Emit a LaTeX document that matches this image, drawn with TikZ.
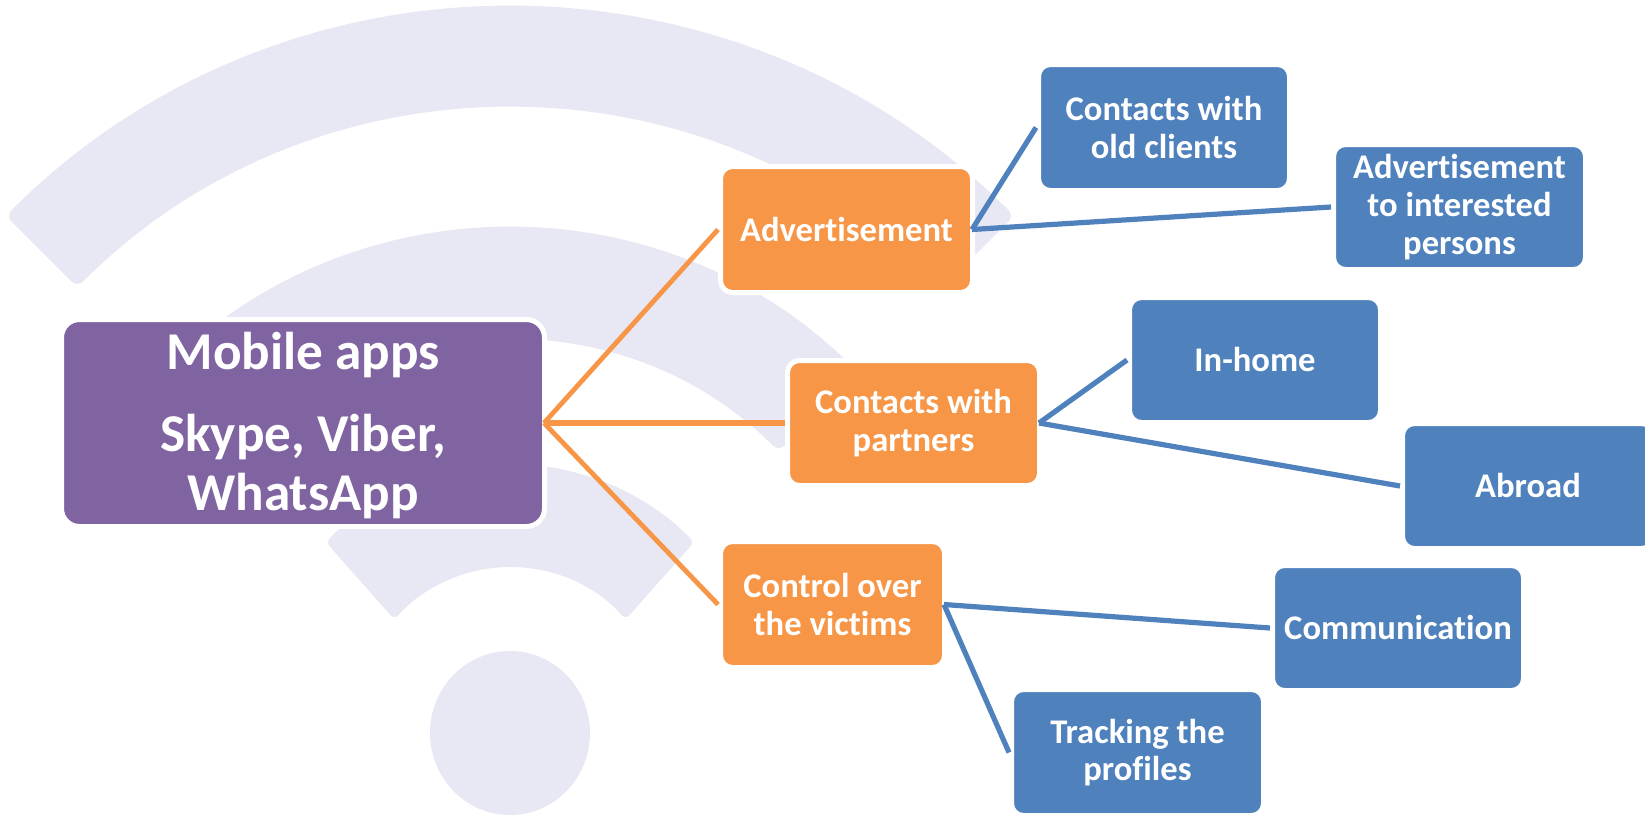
\documentclass[tikz,border=0pt]{standalone}
\usepackage{fontspec}
\setmainfont[Ligatures=NoCommon]{Carlito}
\definecolor{wifi}{HTML}{E7E8F3}
\definecolor{cpurple}{HTML}{8064A2}
\definecolor{corange}{HTML}{F79646}
\definecolor{cblue}{HTML}{4F81BD}
\tikzset{
  boxbase/.style={draw=white,line width=2.5pt,align=center,inner sep=0pt,text=white,font=\bfseries\fontsize{17.3}{18.9}\selectfont,rounded corners=6pt},
  bw/.style={minimum width=#1*0.5pt+2.5pt},
  bh/.style={minimum height=#1*0.5pt+2.5pt},
  mainbox/.style={boxbase,fill=cpurple,font=\bfseries\fontsize{26.6}{29.5}\selectfont,rounded corners=9pt},
  orangebox/.style={boxbase,fill=corange},
  bluebox/.style={boxbase,fill=cblue},
  olink/.style={draw=corange,line width=2.4pt},
  blink/.style={draw=cblue,line width=2.6pt},
  wifishape/.style={fill=wifi,draw=none,rounded corners=4pt}
}
\begin{document}
\begin{tikzpicture}[x=0.5pt,y=-0.5pt]
\useasboundingbox (0,0) rectangle (1645,816);
\begin{scope}
\clip (0,0) rectangle (1645,816);
\begin{scope}[shift={(510,720)}]
\fill[wifishape] (225:713) arc[start angle=225,end angle=315,radius=713] -- (315:612) arc[start angle=315,end angle=225,radius=612] -- cycle;
\fill[wifishape] (225:492) arc[start angle=225,end angle=315,radius=492] -- (315:380) arc[start angle=315,end angle=225,radius=380] -- cycle;
\fill[wifishape,rounded corners=3pt] (224:256) arc[start angle=224,end angle=316,radius=256] -- (319:153) arc[start angle=319,end angle=221,radius=153] -- cycle;
\end{scope}
\fill[wifishape] (510,733) ellipse [x radius=80, y radius=82];
\end{scope}

\node[mainbox,bw=478,bh=202] (main) at (303,423) {\rule{0pt}{21pt}Mobile apps\\[11.4pt]Skype, Viber,\\WhatsApp};
\node[orangebox,bw=247,bh=121] (adv) at (846.5,229.5) {Advertisement};
\node[orangebox,bw=247,bh=120] (par) at (913.5,423) {Contacts with\\partners};
\node[orangebox,bw=219,bh=121] (ctl) at (832.5,604.5) {Control over\\the victims};
\node[bluebox,bw=246,bh=121] (old) at (1164,127.5) {Contacts with\\old clients};
\node[bluebox,bw=247,bh=120] (int) at (1459.5,207) {Advertisement\\to interested\\persons};
\node[bluebox,bw=246,bh=120] (inh) at (1255,360) {\raisebox{0.8pt}{In-home}};
\node[bluebox,bw=246,bh=120] (abr) at (1528,486) {\raisebox{0.8pt}{Abroad}};
\node[bluebox,bw=246,bh=120] (com) at (1398,628) {\raisebox{0.8pt}{Communication}};
\node[bluebox,bw=247,bh=121] (trk) at (1137.5,752.5) {Tracking the\\profiles};

\draw[olink] ([xshift=-1.5pt]main.east) -- (adv.west);
\draw[olink,line width=2.8pt] ([xshift=-1.5pt]main.east) -- (par.west);
\draw[olink] ([xshift=-1.5pt]main.east) -- (ctl.west);
\draw[blink] ([xshift=-1.5pt]adv.east) -- (old.west);
\draw[blink] ([xshift=-1.5pt]adv.east) -- (int.west);
\draw[blink] ([xshift=-1.5pt]par.east) -- (inh.west);
\draw[blink] ([xshift=-1.5pt]par.east) -- (abr.west);
\draw[blink] ([xshift=-1.5pt]ctl.east) -- (com.west);
\draw[blink] ([xshift=-1.5pt]ctl.east) -- (trk.west);
\end{tikzpicture}
\end{document}
